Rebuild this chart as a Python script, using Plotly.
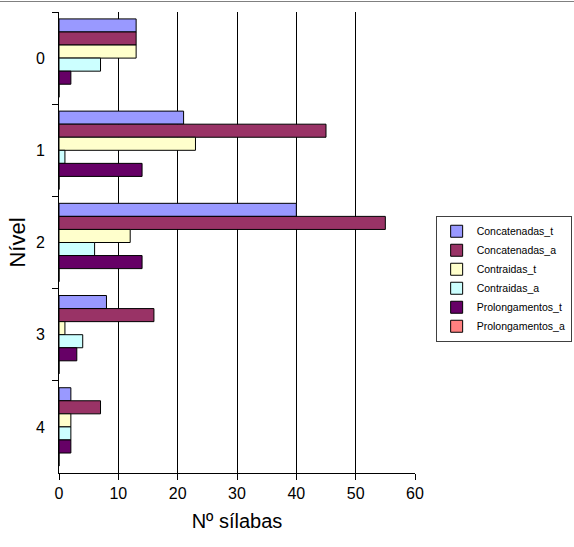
import plotly.graph_objects as go

niveis = ["0", "1", "2", "3", "4"]
series_names = ["Concatenadas_t", "Concatenadas_a", "Contraidas_t",
                "Contraidas_a", "Prolongamentos_t", "Prolongamentos_a"]
concatenadas_t = [13, 21, 40, 8, 2]
concatenadas_a = [13, 45, 55, 16, 7]
contraidas_t = [13, 23, 12, 1, 2]
contraidas_a = [7, 1, 6, 4, 2]
prolongamentos_t = [2, 14, 14, 3, 2]
prolongamentos_a = [0, 0, 0, 0, 0]
colors = ["#9999FF", "#993366", "#FFFFCC", "#CCFFFF", "#660066", "#FF8080"]

values = [concatenadas_t, concatenadas_a, contraidas_t,
          contraidas_a, prolongamentos_t, prolongamentos_a]

fig = go.Figure()
for name, vals, col in zip(series_names, values, colors):
    fig.add_trace(go.Bar(
        y=niveis, x=vals, name=name, orientation="h",
        marker=dict(color=col, line=dict(color="black", width=1)),
    ))

fig.update_layout(
    width=574, height=547,
    margin=dict(l=59, r=159, t=12, b=74, autoexpand=False),
    paper_bgcolor="white", plot_bgcolor="white",
    font=dict(family="Liberation Sans, Arial, sans-serif", color="black"),
    barmode="group", bargap=0.15, bargroupgap=0,
    showlegend=True,
    legend=dict(
        x=1.058, y=0.558, xanchor="left", yanchor="top",
        bordercolor="#404040", borderwidth=1,
        font=dict(size=10.5, color="black"),
        tracegroupgap=0, itemwidth=30,
    ),
    xaxis=dict(
        range=[0, 60], dtick=10, showgrid=True, gridcolor="black", gridwidth=1,
        showline=True, linecolor="black", linewidth=1,
        ticks="outside", ticklen=6, tickcolor="black",
        tickfont=dict(size=16), zeroline=False, automargin=False,
        title=dict(text="Nº sílabas", font=dict(size=20), standoff=12),
    ),
    yaxis=dict(
        type="category", autorange="reversed",
        showline=True, linecolor="black", linewidth=1,
        ticks="outside", ticklen=6, tickcolor="black", tickson="boundaries",
        tickfont=dict(size=16), showgrid=False, automargin=False,
        ticklabelstandoff=10,
        title=dict(text="Nível", font=dict(size=22), standoff=4),
    ),
)

fig.add_shape(type="line", xref="paper", yref="paper",
              x0=-59/356, x1=1 + 159/356, y0=(473 - 1.5) / 461, y1=(473 - 1.5) / 461,
              line=dict(color="#808080", width=1))

fig.write_html("out.html", config={"displayModeBar": False},
               post_script="document.body.style.margin='0';")
